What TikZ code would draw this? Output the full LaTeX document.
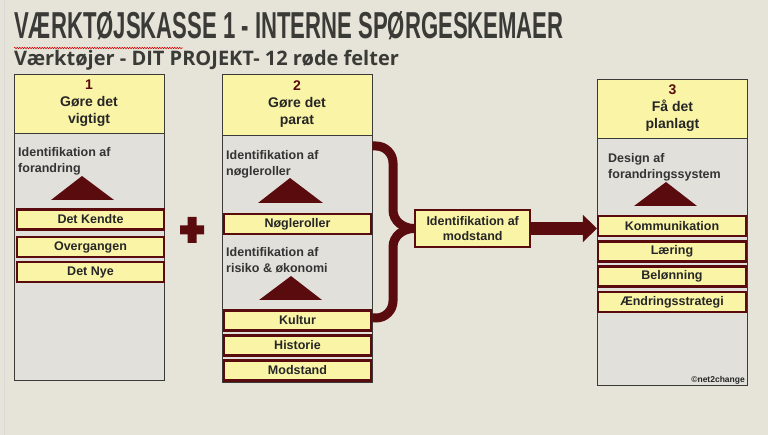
\documentclass[tikz,border=0pt]{standalone}
\usepackage{fontspec}
\setmainfont{Liberation Sans}
\newfontfamily\titlefont[FakeStretch=0.59]{Liberation Sans}
\newfontfamily\subfont{Open Sans}
\usetikzlibrary{arrows.meta,decorations.pathmorphing}

\definecolor{paper}{HTML}{E6E4D9}
\definecolor{panel}{HTML}{E1E0DA}
\definecolor{pale}{HTML}{FAF4A6}
\definecolor{maroon}{HTML}{5A0B0E}
\definecolor{ink}{HTML}{3A3A37}

\begin{document}
\begin{tikzpicture}[
    x=1pt, y=-1pt,
    column/.style={draw=ink, line width=0.8pt, fill=panel, minimum width=150pt, inner sep=0pt},
    header/.style={draw=ink, line width=0.8pt, fill=pale, minimum width=150pt, inner sep=0pt,
        align=center, text=black!85, font=\bfseries\fontsize{14}{17}\selectfont},
    field/.style={draw=maroon, line width=2.4pt, fill=pale, minimum width=147pt, minimum height=20pt,
        inner sep=0pt, text=black!85, font=\bfseries\fontsize{12.5}{15}\selectfont},
    note/.style={anchor=north west, inner sep=0pt, align=left, text=black!80,
        font=\bfseries\fontsize{12.5}{16.5}\selectfont},
    peak/.style={fill=maroon},
    bracket/.style={draw=maroon, line width=9pt},
    push/.style={draw=maroon, line width=13pt, -{Triangle[length=14pt,width=27pt]}}
]
\useasboundingbox (0,0) rectangle (768,435);
\fill[paper] (0,0) rectangle (768,435);
\draw[black!15, line width=0.8pt] (4,0) -- (4,435);

% titles
\node[anchor=base west, inner sep=0pt, text=ink, font=\titlefont\bfseries\fontsize{37.5}{40}\selectfont]
    (title) at (14,39) {VÆRKTØJSKASSE 1 - INTERNE SPØRGESKEMAER};
\draw[red!85!black, line width=0.5pt, decorate, decoration={snake, amplitude=0.8pt, segment length=2.5pt}]
    (14,48) -- (183,48);
\node[anchor=base west, inner sep=0pt, text=ink, font=\subfont\bfseries\fontsize{20}{23}\selectfont]
    (subtitle) at (14,66) {Værktøjer - DIT PROJEKT- 12 røde felter};

% column 1
\node[column, minimum height=306pt] (col1) at (89,227) {};
\node[header, minimum height=59pt] (head1) at (89,103.5) {{\color{maroon}1}\\Gøre det\\vigtigt};
\node[note] (note1) at (18,147) {Identifikation af\\forandring};
\fill[peak] (51,200) -- (82,176) -- (114,200) -- cycle;
\node[field] (kendte) at (90.5,219.5) {Det Kendte};
\node[field] (overgang) at (90.5,247) {Overgangen};
\node[field] (nye) at (90.5,272) {Det Nye};

% plus
\fill[maroon] (180,225.5) rectangle (204,234.5) (187.5,217) rectangle (196.5,243);

% column 2
\node[column, minimum height=308pt] (col2) at (297,228) {};
\node[header, minimum height=61pt] (head2) at (297,104.5) {{\color{maroon}2}\\Gøre det\\parat};
\node[note] (note2a) at (226,150) {Identifikation af\\nøgleroller};
\fill[peak] (258,203) -- (290,178) -- (323,203) -- cycle;
\node[field] (noegle) at (297.5,224) {Nøgleroller};
\node[note] (note2b) at (226,247) {Identifikation af\\risiko \& økonomi};
\fill[peak] (259,300) -- (291,276) -- (322,300) -- cycle;
\node[field] (kultur) at (297.5,320.5) {Kultur};
\node[field] (historie) at (297.5,345.5) {Historie};
\node[field] (modstand) at (297.5,370.5) {Modstand};

% brace into the middle box
\coordinate (cusp) at (414,228.5);
\draw[bracket] (col2.east |- 0,146) -- (376,146) to[out=0,in=90] (393,163) -- (393,210)
    to[out=-90,in=180] (cusp);
\draw[bracket] (col2.east |- 0,318) -- (376,318) to[out=0,in=-90] (393,301) -- (393,247)
    to[out=90,in=180] (cusp);
\node[field, minimum width=115pt, minimum height=37pt, align=center, anchor=west]
    (mod) at (cusp) {Identifikation af\\modstand};

% column 3
\node[column, minimum height=306pt] (col3) at (672.5,232) {};
\node[header, minimum height=59pt] (head3) at (672.5,108.5) {{\color{maroon}3}\\Få det\\planlagt};
\node[note] (note3) at (608,153) {Design af\\forandringssystem};
\fill[peak] (634,206) -- (666,182) -- (697,206) -- cycle;
\node[field, minimum width=148pt] (kom) at (672,226) {Kommunikation};
\node[field, minimum width=148pt] (laering) at (672,251.5) {Læring};
\node[field, minimum width=148pt] (beloen) at (672,276.5) {Belønning};
\node[field, minimum width=148pt] (strategi) at (672,302) {Ændringsstrategi};
\node[anchor=base east, inner sep=0pt, text=black!85, font=\bfseries\fontsize{8.5}{10}\selectfont]
    (copy) at (745,382) {©net2change};

\draw[push] (mod.east) -- (mod.east -| kom.west);
\end{tikzpicture}
\end{document}
